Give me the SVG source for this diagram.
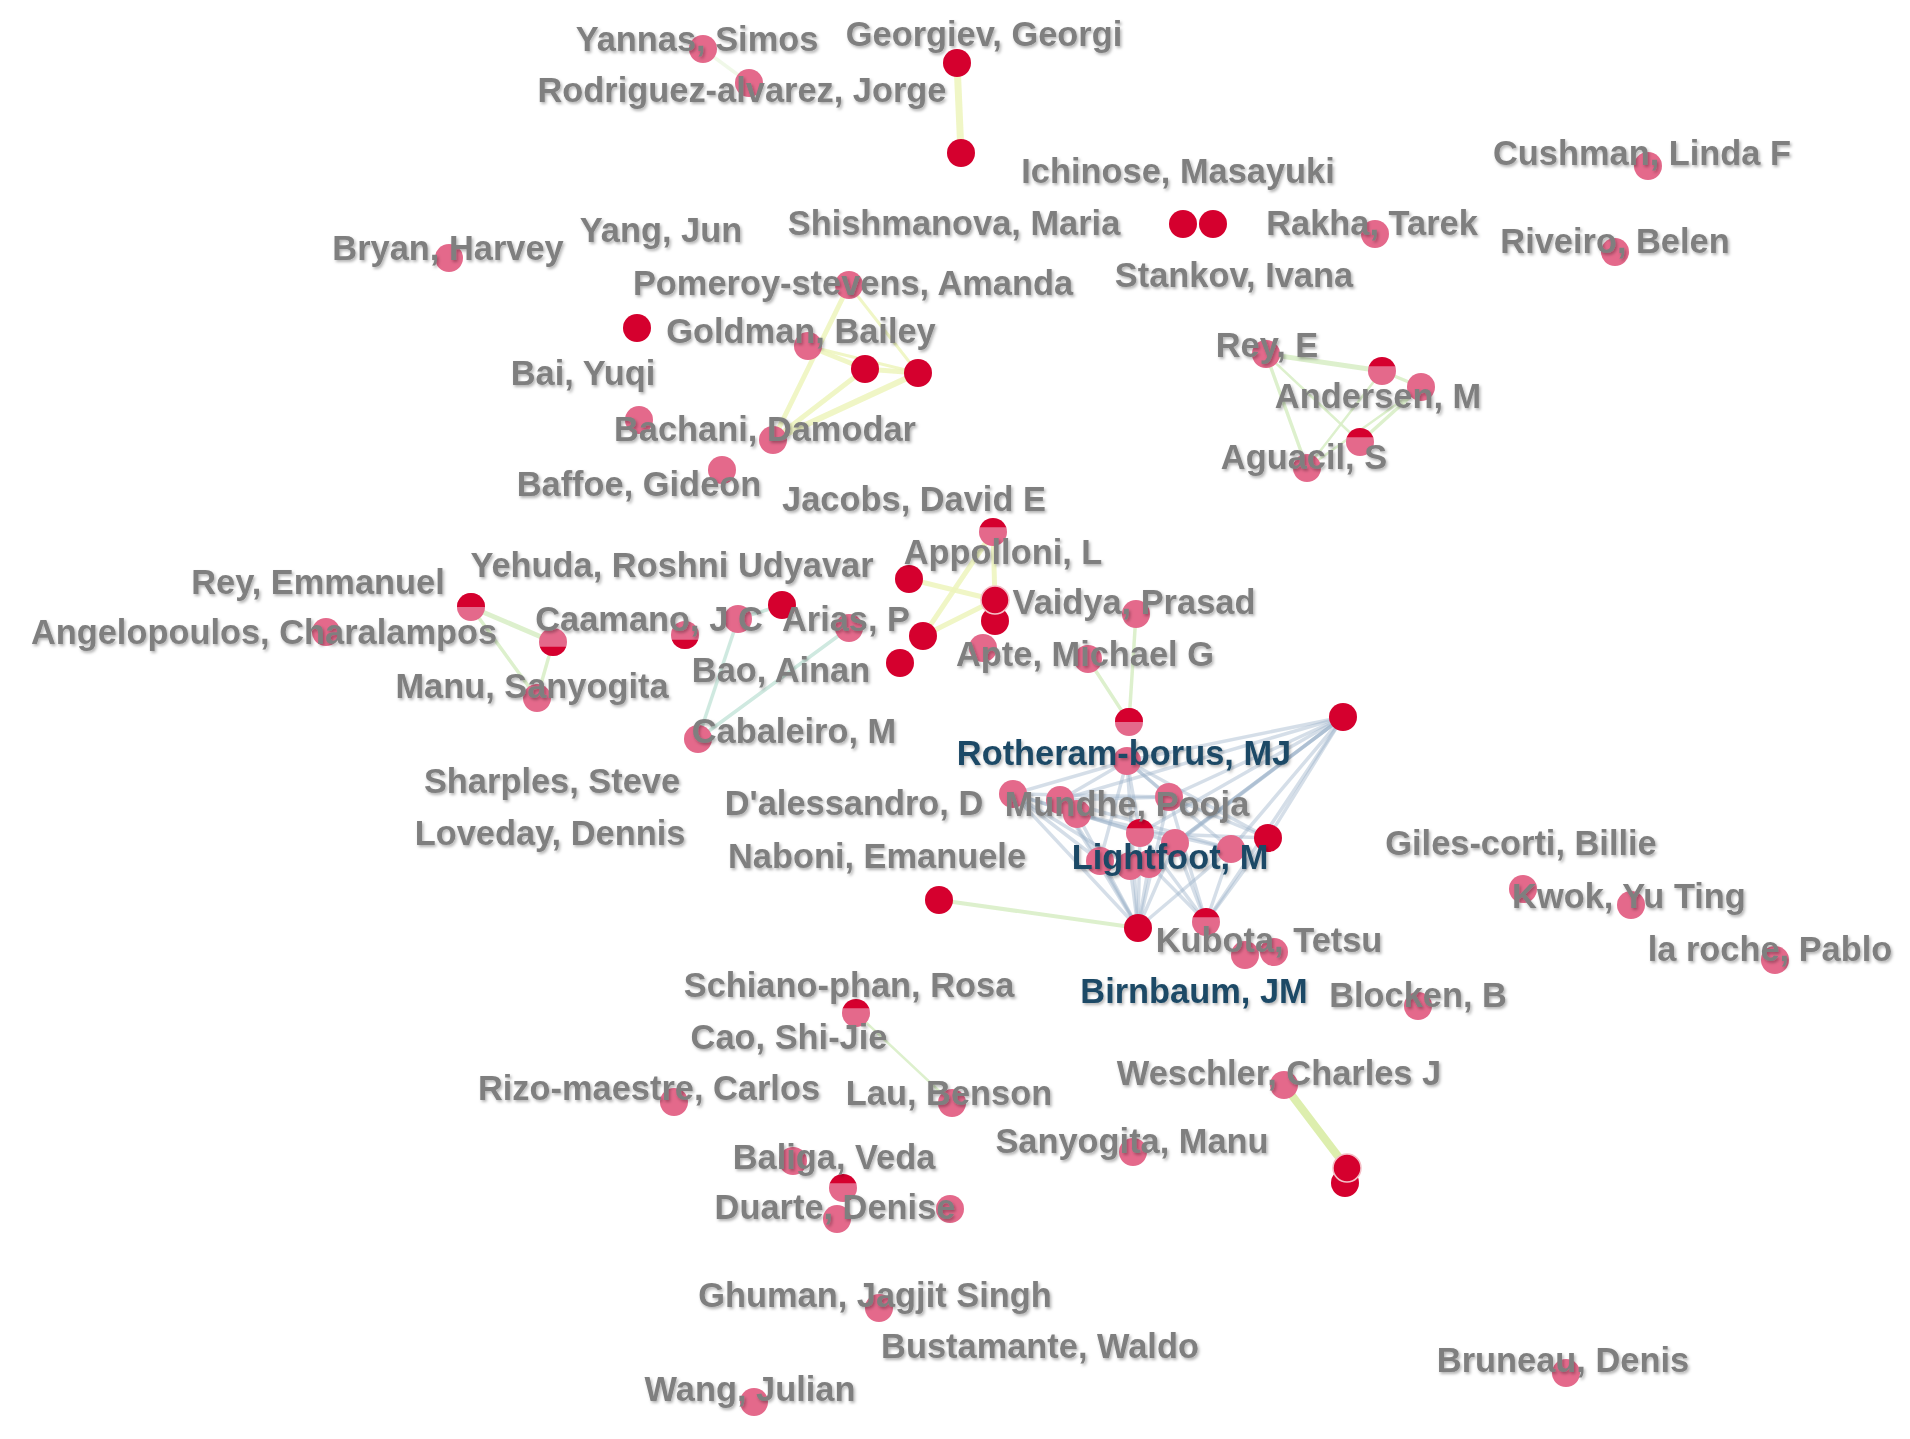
<svg xmlns="http://www.w3.org/2000/svg" xmlns:xlink="http://www.w3.org/1999/xlink" width="1910" height="1439" viewBox="0 0 1910 1439">
<style>
.p{fill:#e4698b}
.r{fill:#d5002e}
.lbl text{font-family:"Liberation Sans",Arial,sans-serif;font-weight:bold;font-size:34.4px;fill:#7f7f7f;text-anchor:middle}
.lbl text.b{fill:#1f4a66}
.ey{stroke:#eef5bd;stroke-width:5;stroke-linecap:round;opacity:.85}
.eg{stroke:#daefc8;stroke-width:3.5;stroke-linecap:round;opacity:.9}
.et{stroke:#cfe9e0;stroke-width:3.5;stroke-linecap:round}
.eb{stroke:#9cb3ca;stroke-width:3.5;stroke-linecap:round;opacity:.42}
</style>
<defs>
<filter id="sh" x="-5%" y="-5%" width="110%" height="110%">
<feDropShadow dx="1.5" dy="2" stdDeviation="1.4" flood-color="#000" flood-opacity="0.3"/>
</filter>
<circle id="np" r="14" class="p"/>
<circle id="nr" r="14" class="r"/>
<path id="ct" class="r" d="M-13.2,-4.7 A14 14 0 0 1 13.2,-4.7 Z"/>
<path id="ch" class="r" d="M-14,0 A14 14 0 0 1 14,0 Z"/>
<path id="cb" class="r" d="M-13.2,4.7 A14 14 0 0 0 13.2,4.7 Z"/>
</defs>
<rect width="1910" height="1439" fill="#ffffff"/>
<g id="connectors">
<line class="eg" x1="703" y1="49" x2="749" y2="83" style="opacity:.4"/>
<line class="ey" x1="957" y1="63" x2="961" y2="153" style="stroke-width:7"/>
<line class="ey" x1="849" y1="285" x2="773" y2="440"/>
<line class="ey" x1="849" y1="285" x2="918" y2="373" style="stroke-width:3"/>
<line class="ey" x1="808" y1="346" x2="865" y2="369"/>
<line class="ey" x1="808" y1="346" x2="918" y2="373" style="stroke-width:3"/>
<line class="ey" x1="773" y1="440" x2="865" y2="369"/>
<line class="ey" x1="773" y1="440" x2="918" y2="373" style="stroke-width:6"/>
<line class="ey" x1="865" y1="369" x2="918" y2="373"/>
<line class="eg" x1="1266" y1="354" x2="1382" y2="371" style="stroke-width:5"/>
<line class="eg" x1="1266" y1="354" x2="1307" y2="468"/>
<line class="eg" x1="1266" y1="354" x2="1360" y2="442" style="stroke-width:2.5"/>
<line class="eg" x1="1382" y1="371" x2="1307" y2="468" style="stroke-width:2.5"/>
<line class="eg" x1="1382" y1="371" x2="1421" y2="387"/>
<line class="eg" x1="1421" y1="387" x2="1360" y2="442"/>
<line class="eg" x1="1421" y1="387" x2="1307" y2="468" style="stroke-width:2.5"/>
<line class="eg" x1="471" y1="607" x2="553" y2="642" style="stroke-width:5"/>
<line class="eg" x1="471" y1="607" x2="537" y2="698"/>
<line class="eg" x1="553" y1="642" x2="537" y2="698"/>
<line class="et" x1="698" y1="739" x2="738" y2="619"/>
<line class="et" x1="698" y1="739" x2="849" y2="628"/>
<line class="et" x1="738" y1="619" x2="782" y2="605"/>
<line class="ey" x1="909" y1="579" x2="995" y2="600"/>
<line class="ey" x1="993" y1="532" x2="923" y2="636"/>
<line class="ey" x1="993" y1="532" x2="995" y2="600"/>
<line class="ey" x1="923" y1="636" x2="995" y2="600"/>
<line class="eg" x1="1136" y1="614" x2="1129" y2="722"/>
<line class="eg" x1="1088" y1="659" x2="1129" y2="722"/>
<line class="eg" x1="939" y1="900" x2="1138" y2="928" style="stroke-width:4"/>
<line class="eg" x1="856" y1="1013" x2="952" y2="1103" style="stroke-width:2.5"/>
<line class="ey" x1="1284" y1="1085" x2="1347" y2="1168" style="stroke-width:8;stroke:#d8eca0"/>
<g id="cluster-edges">
<line class="eb" x1="1343" y1="717" x2="1127" y2="761"/>
<line class="eb" x1="1343" y1="717" x2="1169" y2="797"/>
<line class="eb" x1="1343" y1="717" x2="1140" y2="833"/>
<line class="eb" x1="1343" y1="717" x2="1175" y2="843"/>
<line class="eb" x1="1343" y1="717" x2="1231" y2="849"/>
<line class="eb" x1="1343" y1="717" x2="1268" y2="838"/>
<line class="eb" x1="1343" y1="717" x2="1206" y2="922"/>
<line class="eb" x1="1343" y1="717" x2="1149" y2="864"/>
<line class="eb" x1="1343" y1="717" x2="1060" y2="800"/>
<line class="eb" x1="1127" y1="761" x2="1013" y2="794"/>
<line class="eb" x1="1127" y1="761" x2="1060" y2="800"/>
<line class="eb" x1="1127" y1="761" x2="1169" y2="797"/>
<line class="eb" x1="1127" y1="761" x2="1140" y2="833"/>
<line class="eb" x1="1127" y1="761" x2="1100" y2="861"/>
<line class="eb" x1="1127" y1="761" x2="1138" y2="928"/>
<line class="eb" x1="1127" y1="761" x2="1268" y2="838"/>
<line class="eb" x1="1127" y1="761" x2="1231" y2="849"/>
<line class="eb" x1="1013" y1="794" x2="1138" y2="928"/>
<line class="eb" x1="1013" y1="794" x2="1100" y2="861"/>
<line class="eb" x1="1013" y1="794" x2="1169" y2="797"/>
<line class="eb" x1="1013" y1="794" x2="1175" y2="843"/>
<line class="eb" x1="1060" y1="800" x2="1138" y2="928"/>
<line class="eb" x1="1060" y1="800" x2="1169" y2="797"/>
<line class="eb" x1="1077" y1="814" x2="1138" y2="928"/>
<line class="eb" x1="1077" y1="814" x2="1231" y2="849"/>
<line class="eb" x1="1100" y1="861" x2="1138" y2="928"/>
<line class="eb" x1="1130" y1="866" x2="1138" y2="928"/>
<line class="eb" x1="1149" y1="864" x2="1138" y2="928"/>
<line class="eb" x1="1140" y1="833" x2="1138" y2="928"/>
<line class="eb" x1="1175" y1="843" x2="1138" y2="928"/>
<line class="eb" x1="1169" y1="797" x2="1138" y2="928"/>
<line class="eb" x1="1231" y1="849" x2="1138" y2="928"/>
<line class="eb" x1="1268" y1="838" x2="1206" y2="922"/>
<line class="eb" x1="1231" y1="849" x2="1206" y2="922"/>
<line class="eb" x1="1175" y1="843" x2="1206" y2="922"/>
<line class="eb" x1="1140" y1="833" x2="1206" y2="922"/>
<line class="eb" x1="1169" y1="797" x2="1206" y2="922"/>
<line class="eb" x1="1149" y1="864" x2="1206" y2="922"/>
<line class="eb" x1="1140" y1="833" x2="1268" y2="838"/>
<line class="eb" x1="1169" y1="797" x2="1268" y2="838"/>
<line class="eb" x1="1060" y1="800" x2="1231" y2="849"/>
<line class="eb" x1="1013" y1="794" x2="1140" y2="833"/>
<line class="eb" x1="1013" y1="794" x2="1130" y2="866"/>
<line class="eb" x1="1060" y1="800" x2="1100" y2="861"/>
<line class="eb" x1="1343" y1="717" x2="1175" y2="843"/>
</g>
</g>
<g id="nodes">
<g id="n01"><use href="#np" x="703" y="49"/></g>
<g id="n02"><use href="#np" x="749" y="83"/></g>
<g id="n03"><use href="#nr" x="957" y="63"/></g>
<g id="n04"><use href="#nr" x="961" y="153"/></g>
<g id="n05"><use href="#nr" x="1183" y="224"/></g>
<g id="n06"><use href="#nr" x="1213" y="224"/></g>
<g id="n07"><use href="#np" x="1375" y="234"/></g>
<g id="n08"><use href="#np" x="1648" y="166"/></g>
<g id="n09"><use href="#np" x="1615" y="252"/></g>
<g id="n10"><use href="#np" x="449" y="258"/></g>
<g id="n11"><use href="#np" x="849" y="285"/></g>
<g id="n12"><use href="#nr" x="637" y="328"/></g>
<g id="n13"><use href="#np" x="808" y="346"/></g>
<g id="n14"><use href="#nr" x="865" y="369"/></g>
<g id="n15"><use href="#nr" x="918" y="373"/></g>
<g id="n16"><use href="#np" x="639" y="420"/></g>
<g id="n17"><use href="#np" x="773" y="440"/></g>
<g id="n18"><use href="#np" x="722" y="470"/></g>
<g id="n19"><use href="#np" x="1266" y="354"/></g>
<g id="n20"><use href="#np" x="1382" y="371"/><use href="#ct" x="1382" y="371"/></g>
<g id="n21"><use href="#np" x="1421" y="387"/></g>
<g id="n22"><use href="#np" x="1360" y="442"/><use href="#ct" x="1360" y="442"/></g>
<g id="n23"><use href="#np" x="1307" y="468"/></g>
<g id="n24"><use href="#np" x="471" y="607"/><use href="#ch" x="471" y="607"/></g>
<g id="n25"><use href="#np" x="326" y="632"/></g>
<g id="n26"><use href="#np" x="553" y="642"/><use href="#cb" x="553" y="642"/></g>
<g id="n27"><use href="#np" x="537" y="698"/></g>
<g id="n28"><use href="#np" x="685" y="635"/><use href="#cb" x="685" y="635"/></g>
<g id="n29"><use href="#np" x="738" y="619"/></g>
<g id="n30"><use href="#nr" x="782" y="605"/></g>
<g id="n31"><use href="#np" x="849" y="628"/></g>
<g id="n32"><use href="#np" x="698" y="739"/></g>
<g id="n33"><use href="#nr" x="909" y="579"/></g>
<g id="n34"><use href="#np" x="993" y="532"/><use href="#ct" x="993" y="532"/></g>
<g id="n36"><use href="#nr" x="995" y="621"/></g>
<g id="n35"><use href="#nr" x="995" y="600" stroke="#f4c0c8" stroke-width="1.5"/></g>
<g id="n37"><use href="#nr" x="923" y="636"/></g>
<g id="n38"><use href="#nr" x="900" y="663"/></g>
<g id="n39"><use href="#np" x="983" y="648"/></g>
<g id="n40"><use href="#np" x="1136" y="614"/></g>
<g id="n41"><use href="#np" x="1088" y="659"/></g>
<g id="n42"><use href="#np" x="1129" y="722"/><use href="#ch" x="1129" y="722"/></g>
<g id="n43"><use href="#nr" x="1343" y="717"/></g>
<g id="n44"><use href="#np" x="1127" y="761"/></g>
<g id="n45"><use href="#np" x="1013" y="794"/></g>
<g id="n46"><use href="#np" x="1060" y="800"/></g>
<g id="n47"><use href="#np" x="1077" y="814"/></g>
<g id="n48"><use href="#np" x="1169" y="797"/></g>
<g id="n49"><use href="#np" x="1140" y="833"/><use href="#ct" x="1140" y="833"/></g>
<g id="n50"><use href="#np" x="1175" y="843"/></g>
<g id="n52"><use href="#nr" x="1268" y="838"/></g>
<g id="n51"><use href="#np" x="1231" y="849"/></g>
<g id="n53"><use href="#np" x="1100" y="861"/></g>
<g id="n54"><use href="#np" x="1130" y="866"/></g>
<g id="n55"><use href="#np" x="1149" y="864"/></g>
<g id="n56"><use href="#nr" x="1138" y="928"/></g>
<g id="n57"><use href="#np" x="1206" y="922"/><use href="#ct" x="1206" y="922"/></g>
<g id="n58"><use href="#np" x="1245" y="955"/></g>
<g id="n59"><use href="#np" x="1274" y="952"/></g>
<g id="n60"><use href="#nr" x="939" y="900"/></g>
<g id="n61"><use href="#np" x="1523" y="889"/></g>
<g id="n62"><use href="#np" x="1631" y="905"/></g>
<g id="n63"><use href="#np" x="1775" y="960"/></g>
<g id="n64"><use href="#np" x="1418" y="1006"/></g>
<g id="n65"><use href="#np" x="1284" y="1085"/></g>
<g id="n67"><use href="#nr" x="1345" y="1183"/></g>
<g id="n66"><use href="#nr" x="1347" y="1168" stroke="#f4c0c8" stroke-width="1.5"/></g>
<g id="n68"><use href="#np" x="856" y="1013"/><use href="#ct" x="856" y="1013"/></g>
<g id="n69"><use href="#np" x="952" y="1103"/></g>
<g id="n70"><use href="#np" x="674" y="1102"/></g>
<g id="n71"><use href="#np" x="1133" y="1152"/></g>
<g id="n72"><use href="#np" x="793" y="1161"/></g>
<g id="n73"><use href="#np" x="843" y="1188"/><use href="#ct" x="843" y="1188"/></g>
<g id="n74"><use href="#np" x="837" y="1219"/></g>
<g id="n75"><use href="#np" x="950" y="1209"/></g>
<g id="n76"><use href="#np" x="879" y="1308"/></g>
<g id="n77"><use href="#np" x="754" y="1402"/></g>
<g id="n78"><use href="#np" x="1566" y="1373"/></g>
</g>
<g id="labels" class="lbl" filter="url(#sh)">
<text x="697" y="51">Yannas, Simos</text>
<text x="984" y="46">Georgiev, Georgi</text>
<text x="742" y="102">Rodriguez-alvarez, Jorge</text>
<text x="1178" y="183">Ichinose, Masayuki</text>
<text x="1642" y="165">Cushman, Linda F</text>
<text x="954" y="235">Shishmanova, Maria</text>
<text x="1372" y="235">Rakha, Tarek</text>
<text x="1615" y="253">Riveiro, Belen</text>
<text x="448" y="260">Bryan, Harvey</text>
<text x="661" y="242">Yang, Jun</text>
<text x="1234" y="287">Stankov, Ivana</text>
<text x="853" y="295">Pomeroy-stevens, Amanda</text>
<text x="801" y="343">Goldman, Bailey</text>
<text x="1267" y="357">Rey, E</text>
<text x="583" y="385">Bai, Yuqi</text>
<text x="1378" y="408">Andersen, M</text>
<text x="765" y="441">Bachani, Damodar</text>
<text x="1304" y="469">Aguacil, S</text>
<text x="639" y="496">Baffoe, Gideon</text>
<text x="914" y="511">Jacobs, David E</text>
<text x="1003" y="564">Appolloni, L</text>
<text x="672" y="577">Yehuda, Roshni Udyavar</text>
<text x="318" y="594">Rey, Emmanuel</text>
<text x="1134" y="614">Vaidya, Prasad</text>
<text x="264" y="644">Angelopoulos, Charalampos</text>
<text x="649" y="631">Caamano, J C</text>
<text x="846" y="631">Arias, P</text>
<text x="1085" y="666">Apte, Michael G</text>
<text x="781" y="682">Bao, Ainan</text>
<text x="532" y="698">Manu, Sanyogita</text>
<text x="794" y="743">Cabaleiro, M</text>
<text class="b" x="1124" y="765">Rotheram-borus, MJ</text>
<text x="552" y="793">Sharples, Steve</text>
<text x="854" y="815">D'alessandro, D</text>
<text x="1127" y="816">Mundhe, Pooja</text>
<text x="550" y="845">Loveday, Dennis</text>
<text x="1521" y="855">Giles-corti, Billie</text>
<text x="877" y="868">Naboni, Emanuele</text>
<text class="b" x="1170" y="869">Lightfoot, M</text>
<text x="1629" y="908">Kwok, Yu Ting</text>
<text x="1269" y="952">Kubota, Tetsu</text>
<text x="1770" y="961">la roche, Pablo</text>
<text x="849" y="997">Schiano-phan, Rosa</text>
<text class="b" x="1194" y="1003">Birnbaum, JM</text>
<text x="1418" y="1007">Blocken, B</text>
<text x="789" y="1049">Cao, Shi-Jie</text>
<text x="1279" y="1085">Weschler, Charles J</text>
<text x="649" y="1100">Rizo-maestre, Carlos</text>
<text x="949" y="1105">Lau, Benson</text>
<text x="1132" y="1153">Sanyogita, Manu</text>
<text x="834" y="1169">Baliga, Veda</text>
<text x="835" y="1219">Duarte, Denise</text>
<text x="875" y="1307">Ghuman, Jagjit Singh</text>
<text x="1040" y="1358">Bustamante, Waldo</text>
<text x="1563" y="1372">Bruneau, Denis</text>
<text x="750" y="1401">Wang, Julian</text>
</g>
</svg>
